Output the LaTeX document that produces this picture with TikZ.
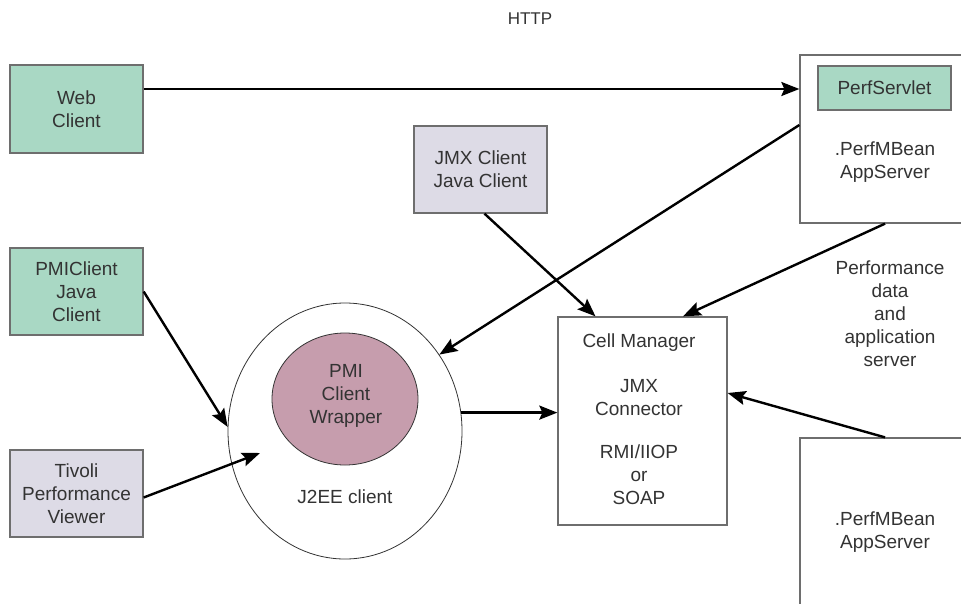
\documentclass[tikz,border=0pt]{standalone}
\usepackage{fontspec}
\setmainfont{Liberation Sans}
\usetikzlibrary{arrows.meta,shapes.geometric,calc}
\definecolor{boxgreen}{HTML}{A9D8C4}
\definecolor{boxgray}{HTML}{DDDBE6}
\definecolor{mauve}{HTML}{C69DAD}
\definecolor{edge}{HTML}{6E6E6E}
\definecolor{txt}{HTML}{333333}
\tikzset{
  every node/.style={text=txt, font=\fontsize{19}{23}\selectfont, align=center},
  greenbox/.style={draw=edge, line width=1.3pt, fill=boxgreen, rectangle, inner sep=0pt},
  graybox/.style={draw=edge, line width=1.3pt, fill=boxgray, rectangle, inner sep=0pt},
  plainbox/.style={draw=edge, line width=1.3pt, fill=white, rectangle, inner sep=0pt},
  arr/.style={draw=black, line width=2.4pt, -{Stealth[length=18pt,width=14pt,inset=3pt]}}
}
\begin{document}
\begin{tikzpicture}[x=1pt,y=-1pt]
\useasboundingbox (0,0) rectangle (961,603);
\fill[white] (0,0) rectangle (961,603);
\begin{scope}
\clip (0,0) rectangle (961,603);
% labels
\node[font=\fontsize{17}{20}\selectfont] (http) at (530,19) {HTTP};
% left boxes
\node[greenbox, minimum width=133pt, minimum height=88pt] (web) at (76.5,109) {Web\\Client};
\node[greenbox, minimum width=133pt, minimum height=87pt] (pmi) at (76.5,291.5) {PMIClient\\Java\\Client};
\node[graybox, minimum width=133pt, minimum height=87pt] (tiv) at (76.5,493.5) {Tivoli\\Performance\\Viewer};
\node[graybox, minimum width=133pt, minimum height=87pt] (jmx) at (480.5,169.5) {JMX Client\\Java Client};
% app servers
\node[plainbox, minimum width=175pt, minimum height=168pt] (app1) at (887.5,139) {};
\node[greenbox, minimum width=133pt, minimum height=44pt] (servlet) at (884.5,88) {PerfServlet};
\node (app1txt) at (885,162) {.PerfMBean\\AppServer};
\node[plainbox, minimum width=175pt, minimum height=190pt] (app2) at (887.5,533) {};
\node (app2txt) at (885,532) {.PerfMBean\\AppServer};
\node (perf) at (890,314) {Performance\\data\\and\\application\\server};
% cell manager
\node[plainbox, minimum width=169pt, minimum height=208pt] (cell) at (642.5,421) {};
\node (cm1) at (639,343) {Cell Manager};
\node (cm2) at (639,398) {JMX\\Connector};
\node (cm3) at (639,475) {RMI/IIOP\\or\\SOAP};
% J2EE client
\node[ellipse, draw=txt, line width=0.8pt, fill=white, minimum width=234pt, minimum height=256pt, inner sep=0pt] (circ) at (345,431) {};
\node[ellipse, draw=txt, line width=0.8pt, fill=mauve, minimum width=146pt, minimum height=132pt, inner sep=0pt] (wrap) at (345,399) {};
\node (wraptxt) at (346,396) {PMI\\Client\\Wrapper};
\node (j2ee) at (345,497) {J2EE client};
\coordinate (tvtip) at (260,453);
% connectors
\draw[arr] ([yshift=20pt]web.east) -- ([yshift=20pt]web.east -| app1.west);
\draw[arr] ([yshift=14pt]app1.west) -- (circ.39);
\draw[arr] ([xshift=-2.5pt]app1.south) -- ([xshift=40.5pt]cell.north);
\draw[arr] ([xshift=4pt]jmx.south) -- ([xshift=-47pt]cell.north);
\draw[arr] (pmi.east) -- (circ.178);
\draw[arr] ([yshift=-4pt]tiv.east) -- (tvtip);
\draw[arr] (circ.9) -- (circ.9 -| cell.west);
\draw[arr] ([xshift=-2.5pt]app2.north) -- ([yshift=28pt]cell.east);
\end{scope}
\end{tikzpicture}
\end{document}
